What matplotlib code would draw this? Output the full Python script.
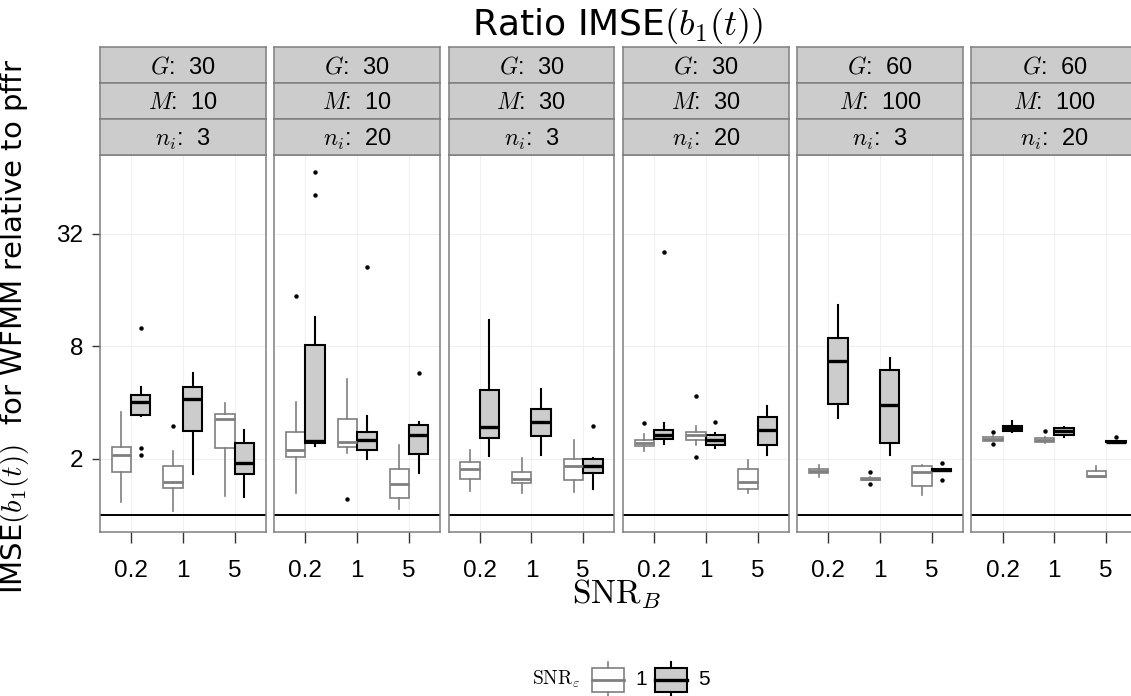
import numpy as np
import matplotlib.pyplot as plt
from matplotlib.patches import Rectangle

plt.rcParams['font.family'] = ['Liberation Sans', 'DejaVu Sans']
plt.rcParams['mathtext.fontset'] = 'cm'

G_vals = [30, 30, 30, 30, 60, 60]
M_vals = [10, 10, 30, 30, 100, 100]
n_vals = [3, 20, 3, 20, 3, 20]
snr_b = ['0.2', '1', '5']
snr_e = ['1', '5']

# whisker low, q1, median, q3, whisker high -- per panel, per SNR_B
box_e1 = [
    [(1.17, 1.70, 2.10, 2.30, 3.54), (1.05, 1.39, 1.49, 1.82, 2.21), (1.26, 2.27, 3.24, 3.45, 3.98)],
    [(1.31, 2.03, 2.23, 2.76, 4.00), (2.15, 2.30, 2.45, 3.26, 5.32), (1.08, 1.23, 1.46, 1.77, 2.36)],
    [(1.35, 1.56, 1.76, 1.91, 2.23), (1.31, 1.48, 1.56, 1.69, 2.02), (1.33, 1.54, 1.82, 2.00, 2.51)],
    [(2.21, 2.35, 2.43, 2.51, 2.71), (2.38, 2.53, 2.66, 2.77, 3.00), (1.31, 1.38, 1.50, 1.77, 1.96)],
    [(1.60, 1.68, 1.72, 1.77, 1.84), (1.53, 1.54, 1.56, 1.58, 1.59), (1.27, 1.42, 1.69, 1.82, 1.86)],
    [(2.48, 2.50, 2.56, 2.61, 2.63), (2.41, 2.46, 2.53, 2.58, 2.60), (1.59, 1.59, 1.62, 1.72, 1.83)],
]
box_e5 = [
    [(3.38, 3.41, 4.00, 4.39, 4.86), (1.66, 2.80, 4.18, 4.86, 5.78), (1.25, 1.66, 1.89, 2.42, 2.84)],
    [(2.33, 2.43, 2.50, 8.09, 11.48), (1.98, 2.23, 2.51, 2.79, 3.37), (1.68, 2.13, 2.66, 3.04, 3.14)],
    [(2.06, 2.57, 2.96, 4.67, 11.10), (2.10, 2.65, 3.14, 3.69, 4.74), (1.38, 1.68, 1.82, 1.98, 2.02)],
    [(2.39, 2.56, 2.69, 2.84, 3.09), (2.28, 2.37, 2.51, 2.66, 2.75), (2.10, 2.38, 2.85, 3.35, 3.81)],
    [(3.30, 3.93, 6.70, 8.86, 13.25), (2.10, 2.42, 3.89, 5.97, 6.92), (1.72, 1.72, 1.74, 1.76, 1.76)],
    [(2.77, 2.80, 2.91, 2.99, 3.17), (2.61, 2.69, 2.80, 2.93, 2.95), (2.44, 2.45, 2.46, 2.47, 2.48)],
]
out_e1 = [
    [[], [3.0], []],
    [[14.9], [1.22], []],
    [[], [], []],
    [[3.09], [4.35, 2.03], []],
    [[], [1.69, 1.46], []],
    [[2.77, 2.39], [2.80], []],
]
out_e5 = [
    [[10.0, 2.29, 2.08], [], []],
    [[68.3, 51.7], [21.1], [5.78]],
    [[], [], [2.98]],
    [[25.5], [3.13], []],
    [[], [], [1.89, 1.54]],
    [[], [], [2.61]],
]

W, H = 1131, 696
fig = plt.figure(figsize=(W / 100, H / 100), dpi=100)

grey50 = '#7f7f7f'
styles = {
    '1': dict(fc='white', ec=grey50, lw=1.2, mlw=2.0),
    '5': dict(fc='#cccccc', ec='black', lw=1.5, mlw=2.4),
}

def stats_list(boxes, outs):
    res = []
    for b, o in zip(boxes, outs):
        res.append(dict(whislo=b[0], q1=b[1], med=b[2], q3=b[3], whishi=b[4], fliers=o))
    return res

pos = np.arange(1, len(snr_b) + 1)
for i in range(6):
    left = 100 + i * 174.3
    ax = fig.add_axes([left / W, (H - 532) / H, 165.7 / W, 377 / H])
    ax.set_yscale('log')
    ax.set_xlim(0.4, 3.6)
    ax.set_ylim(2 ** -0.305, 2 ** 6.399)
    ax.grid(True, color='#f0f0f0', lw=0.8, zorder=0)
    ax.set_axisbelow(True)
    ax.axhline(1, color='black', lw=1.4, zorder=1)

    for key, boxes, outs, off in [('1', box_e1[i], out_e1[i], -0.1875),
                                  ('5', box_e5[i], out_e5[i], 0.1875)]:
        st = styles[key]
        ax.bxp(stats_list(boxes, outs), positions=pos + off, widths=0.375,
               patch_artist=True, showcaps=False, manage_ticks=False,
               boxprops=dict(facecolor=st['fc'], edgecolor=st['ec'], linewidth=st['lw']),
               medianprops=dict(color=st['ec'], linewidth=st['mlw']),
               whiskerprops=dict(color=st['ec'], linewidth=st['lw']),
               flierprops=dict(marker='o', markersize=3.2, markerfacecolor='black',
                               markeredgecolor='none'))

    ax.set_xticks(pos)
    ax.set_xticklabels(snr_b, fontsize=17.5)
    ax.set_yticks([2, 8, 32])
    ax.tick_params(axis='x', length=8, width=1, color='#333333', pad=12)
    ax.tick_params(axis='y', length=6, width=1, color='#333333', pad=6)
    ax.minorticks_off()
    if i == 0:
        ax.set_yticklabels(['2', '8', '32'], fontsize=17.5)
    else:
        ax.tick_params(axis='y', length=0, labelleft=False)
    for s in ax.spines.values():
        s.set_color(grey50)
        s.set_linewidth(1.1)

    labels = [r'$G$:  %d' % G_vals[i], r'$M$:  %d' % M_vals[i], r'$n_i$:  %d' % n_vals[i]]
    for r in range(3):
        bot = 47.3 + 36 * (r + 1)
        sax = fig.add_axes([left / W, (H - bot) / H, 165.7 / W, 36 / H])
        sax.set_facecolor('#cccccc')
        sax.set_xticks([])
        sax.set_yticks([])
        for s in sax.spines.values():
            s.set_color(grey50)
            s.set_linewidth(1.1)
        sax.text(0.5, 0.45, labels[r], ha='center', va='center', fontsize=17,
                 transform=sax.transAxes)

fig.text(617 / W, 1 - 35 / H, r'Ratio IMSE$(b_1(t))$', ha='center', va='baseline',
         fontsize=26, family='DejaVu Sans')
fig.text(617 / W, 1 - 603 / H, r'$\mathrm{SNR}_B$', ha='center', va='baseline', fontsize=24)
fig.text(22 / W, 1 - 326 / H, r'IMSE$(b_1(t))$  for WFMM relative to pffr', rotation=90,
         rotation_mode='anchor', ha='center', va='baseline', fontsize=21, family='DejaVu Sans')

# legend
lg = fig.add_axes([0, 0, 1, 1], facecolor='none')
lg.set_xlim(0, W)
lg.set_ylim(H, 0)
lg.axis('off')
lg.text(580, 685, r'$\mathrm{SNR}_\varepsilon$', ha='right', va='baseline', fontsize=14)
for x0, key, tx in [(592, '1', 635), (655, '5', 698)]:
    st = styles[key]
    xc = x0 + 16
    lg.plot([xc, xc], [661.5, 668.3], color=st['ec'], lw=st['lw'])
    lg.plot([xc, xc], [691.7, 700], color=st['ec'], lw=st['lw'])
    lg.add_patch(Rectangle((x0, 668.3), 32, 23.4, facecolor=st['fc'], edgecolor=st['ec'], lw=st['lw']))
    lg.plot([x0, x0 + 32], [680, 680], color=st['ec'], lw=st['mlw'])
    lg.text(tx, 685, key, ha='left', va='baseline', fontsize=15)

fig.savefig('out.png', dpi=100)
